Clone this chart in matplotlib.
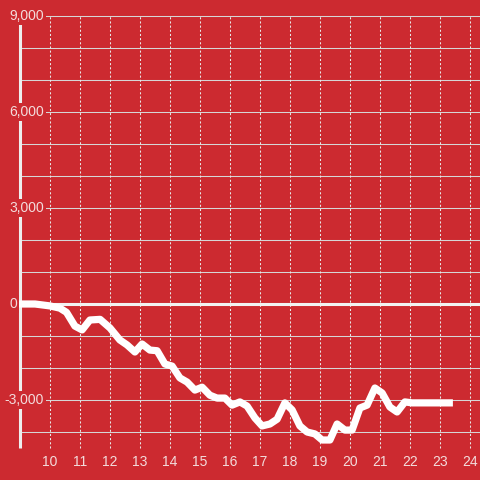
import matplotlib
matplotlib.use('Agg')
import matplotlib.pyplot as plt

plt.rcParams['font.family'] = ['Liberation Sans', 'DejaVu Sans']

# ========== 数据 ==========
hours = [8.90, 9.50, 10.00, 10.33, 10.55, 10.83, 11.07, 11.33, 11.67, 12.00,
         12.33, 12.57, 12.83, 13.07, 13.33, 13.57, 13.83, 14.07, 14.33, 14.57,
         14.83, 15.07, 15.33, 15.57, 15.83, 16.07, 16.33, 16.57, 16.83, 17.07,
         17.33, 17.57, 17.83, 18.07, 18.33, 18.57, 18.83, 19.07, 19.33, 19.57,
         19.83, 20.07, 20.33, 20.57, 20.83, 21.07, 21.33, 21.57, 21.83, 22.07,
         23.43]
values = [0, 0, -60, -130, -260, -690, -810, -500, -480, -750,
          -1125, -1280, -1500, -1250, -1440, -1460, -1875, -1940, -2310, -2440,
          -2690, -2600, -2850, -2940, -2940, -3160, -3060, -3190, -3560, -3810,
          -3750, -3600, -3090, -3310, -3810, -4000, -4060, -4250, -4250, -3750,
          -3940, -3940, -3250, -3160, -2625, -2780, -3220, -3375, -3060, -3090,
          -3090]
x_ticks = list(range(10, 25))
y_grid = [-4000, -3000, -2000, -1000, 1000, 2000, 3000, 4000, 5000, 6000, 7000, 8000, 9000]
y_labels = [9000, 6000, 3000, 0, -3000]

BG = '#cc2a30'
TXT = '#f3dcdc'

fig = plt.figure(figsize=(4.8, 4.8), dpi=100, facecolor=BG)
ax = fig.add_axes([0, 0, 1, 1], facecolor=BG)
ax.set_xlim(10 - 50 / 30, 10 + 430 / 30)
ax.set_ylim(-5500, 9500)
ax.axis('off')

# 网格线
ax.hlines(y_grid, 9, 24.4, colors='#d6d6d6', linewidth=0.75, zorder=1)
ax.vlines(x_ticks, -4500, 9000, colors='#e8e8e8', linewidth=0.75,
          linestyles=(0, (2, 2)), zorder=1)
ax.hlines([0], 8.9, 24.4, colors='#f2f2f2', linewidth=2.2, zorder=2)
ax.vlines([9], -4500, 9000, colors='#eeeeee', linewidth=2.2, zorder=2)

# 主曲线
ax.plot(hours, values, color='white', linewidth=5.2, solid_capstyle='butt',
        solid_joinstyle='round', zorder=3)

# 坐标标签
for v in y_labels:
    xr = 8.9 if v == 0 else 9.8
    ax.text(xr, v, f'{v:,}', ha='right', va='center', fontsize=10, color=TXT,
            zorder=4, bbox=dict(facecolor=BG, edgecolor='none', pad=1.5))
for h in x_ticks:
    ax.text(h, -4940, str(h), ha='center', va='center', fontsize=10, color=TXT)

fig.savefig('out.png', dpi=100, facecolor=BG)
